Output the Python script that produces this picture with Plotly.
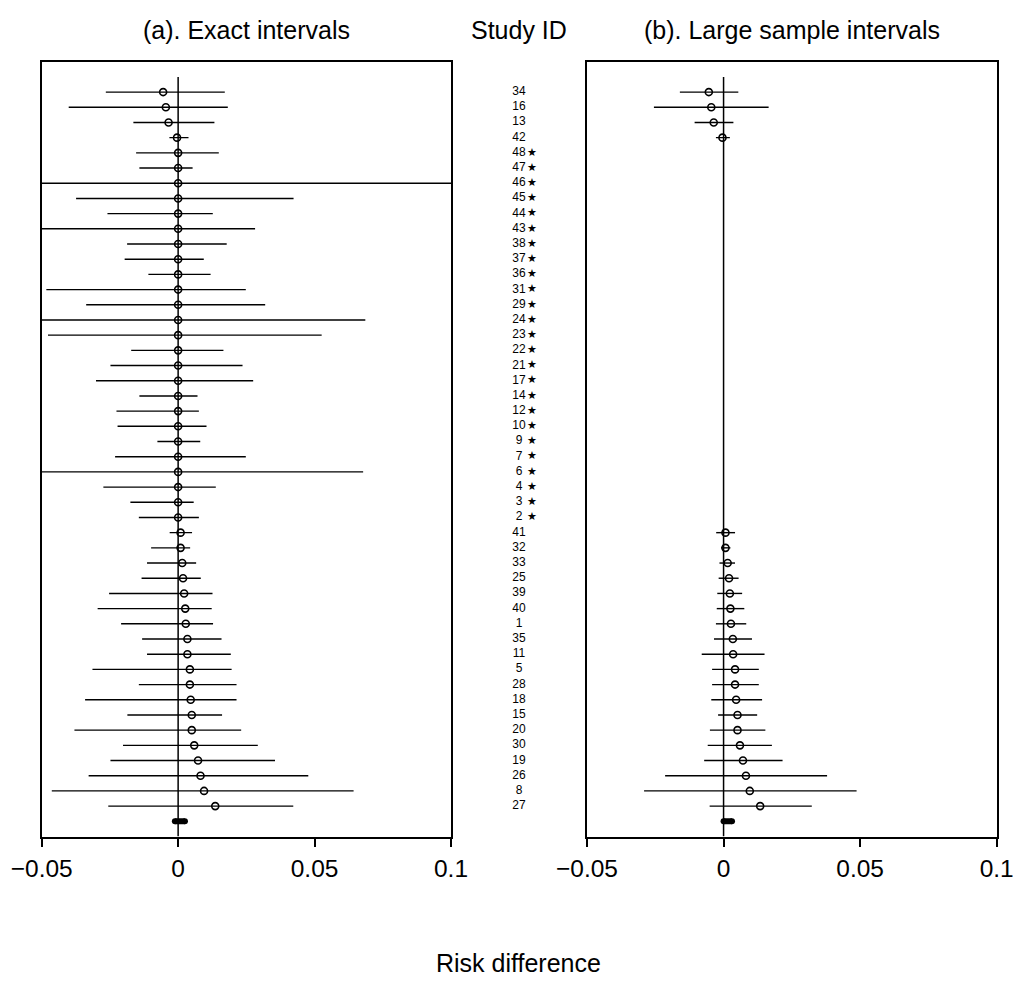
import plotly.graph_objects as go

# ---------------- data ----------------
study_ids = ["34", "16", "13", "42", "48", "47", "46", "45", "44", "43", "38", "37",
             "36", "31", "29", "24", "23", "22", "21", "17", "14", "12", "10", "9",
             "7", "6", "4", "3", "2", "41", "32", "33", "25", "39", "40", "1", "35",
             "11", "5", "28", "18", "15", "20", "30", "19", "26", "8", "27"]
double_zero = [False] * 4 + [True] * 25 + [False] * 19

# (a) exact intervals
exact_lo = [-0.0265, -0.0401, -0.0164, -0.0032, -0.0154, -0.0142, -0.0580, -0.0374,
            -0.0259, -0.0580, -0.0187, -0.0196, -0.0109, -0.0483, -0.0337, -0.0580,
            -0.0477, -0.0172, -0.0248, -0.0301, -0.0142, -0.0226, -0.0222, -0.0076,
            -0.0231, -0.0580, -0.0274, -0.0175, -0.0144, -0.0031, -0.0099, -0.0114,
            -0.0134, -0.0253, -0.0295, -0.0209, -0.0132, -0.0114, -0.0314, -0.0144,
            -0.0341, -0.0186, -0.0380, -0.0202, -0.0248, -0.0328, -0.0463, -0.0256]
exact_est = [-0.0055, -0.0045, -0.0035, -0.0004] + [0.0] * 25 + \
            [0.0009, 0.0009, 0.0015, 0.0018, 0.0022, 0.0026, 0.0028, 0.0034, 0.0034,
             0.0043, 0.0043, 0.0046, 0.0050, 0.0050, 0.0059, 0.0073, 0.0082, 0.0095,
             0.0136]
exact_hi = [0.0171, 0.0182, 0.0133, 0.0038, 0.0149, 0.0053, 0.1030, 0.0423,
            0.0127, 0.0282, 0.0178, 0.0094, 0.0119, 0.0248, 0.0319, 0.0686,
            0.0526, 0.0166, 0.0236, 0.0275, 0.0071, 0.0076, 0.0104, 0.0081,
            0.0248, 0.0678, 0.0138, 0.0057, 0.0076, 0.0051, 0.0044, 0.0066,
            0.0083, 0.0126, 0.0123, 0.0128, 0.0159, 0.0193, 0.0196, 0.0214,
            0.0214, 0.0161, 0.0231, 0.0292, 0.0355, 0.0477, 0.0643, 0.0422]
exact_summary = [-0.0012, 0.0025]

# (b) large sample intervals (double-zero studies excluded)
N = None
large_lo = [-0.0160, -0.0255, -0.0106, -0.0028] + [N] * 25 + \
           [-0.0027, -0.0009, -0.0015, -0.0018, -0.0023, -0.0025, -0.0028, -0.0035,
            -0.0080, -0.0042, -0.0042, -0.0045, -0.0020, -0.0050, -0.0058, -0.0071,
            -0.0214, -0.0291, -0.0051]
large_est = [-0.0054, -0.0045, -0.0036, -0.0004] + [N] * 25 + \
            [0.0007, 0.0007, 0.0015, 0.0020, 0.0023, 0.0025, 0.0027, 0.0034,
             0.0035, 0.0042, 0.0042, 0.0046, 0.0051, 0.0051, 0.0060, 0.0071,
             0.0082, 0.0096, 0.0134]
large_hi = [0.0054, 0.0165, 0.0036, 0.0023] + [N] * 25 + \
           [0.0042, 0.0025, 0.0042, 0.0055, 0.0068, 0.0076, 0.0083, 0.0104,
            0.0150, 0.0129, 0.0129, 0.0141, 0.0123, 0.0153, 0.0177, 0.0216,
            0.0379, 0.0487, 0.0323]
large_summary = [0.0000, 0.0031]

x_ticks = [-0.05, 0, 0.05, 0.1]
x_tick_labels = ["\u22120.05", "0", "0.05", "0.1"]

# ---------------- figure ----------------
FONT = "Liberation Sans, Arial, sans-serif"
W, H = 1013, 1003
n = len(study_ids)
rows = list(range(1, n + 1))
summary_row = n + 1

fig = go.Figure()


def add_panel(lo, est, hi, summ, xa, ya):
    # reference line at zero
    fig.add_trace(go.Scatter(x=[0, 0], y=[0, summary_row + 1], mode="lines",
                             line=dict(color="black", width=1.5),
                             xaxis=xa, yaxis=ya, hoverinfo="skip", showlegend=False))
    xs, ys = [], []
    for r, a, b in zip(rows, lo, hi):
        if a is None:
            continue
        xs += [a, b, None]
        ys += [r, r, None]
    fig.add_trace(go.Scatter(x=xs, y=ys, mode="lines",
                             line=dict(color="black", width=1.4),
                             xaxis=xa, yaxis=ya, hoverinfo="skip", showlegend=False))
    px = [e for e in est if e is not None]
    py = [r for r, e in zip(rows, est) if e is not None]
    fig.add_trace(go.Scatter(x=px, y=py, mode="markers",
                             marker=dict(symbol="circle-open", size=7, color="black",
                                         line=dict(width=1.6, color="black")),
                             xaxis=xa, yaxis=ya, showlegend=False))
    # pooled estimate (thick bar with round ends)
    fig.add_trace(go.Scatter(x=summ, y=[summary_row, summary_row], mode="lines+markers",
                             line=dict(color="black", width=6),
                             marker=dict(symbol="circle", size=6, color="black"),
                             xaxis=xa, yaxis=ya, hoverinfo="skip", showlegend=False))


add_panel(exact_lo, exact_est, exact_hi, exact_summary, "x", "y")
add_panel(large_lo, large_est, large_hi, large_summary, "x2", "y2")

# study ID labels
fig.add_trace(go.Scatter(x=[19] * n, y=rows, mode="text", text=study_ids,
                         textfont=dict(family=FONT, size=12, color="black"),
                         xaxis="x3", yaxis="y3", hoverinfo="skip", showlegend=False))
star_rows = [r for r, s in zip(rows, double_zero) if s]
fig.add_trace(go.Scatter(x=[32] * len(star_rows), y=star_rows, mode="text",
                         text=["\u2605"] * len(star_rows),
                         textfont=dict(family="DejaVu Sans", size=11, color="black"),
                         xaxis="x3", yaxis="y3", hoverinfo="skip", showlegend=False))

y_top, y_bot = 61.7, 836.5
ydom = [1 - y_bot / H, 1 - y_top / H]
yrange = [summary_row + 1, -1]

xaxis_common = dict(range=[-0.05, 0.1], tickvals=x_ticks, ticktext=x_tick_labels,
                    showgrid=False, zeroline=False, showline=True, mirror=True,
                    linecolor="black", linewidth=1.5, ticks="outside", ticklen=9,
                    tickwidth=1.5, tickcolor="black",
                    tickfont=dict(family=FONT, size=24.5, color="black"),
                    ticklabelstandoff=0, ticklabeloverflow="allow", automargin=False)
yaxis_common = dict(range=yrange, domain=ydom, showgrid=False, zeroline=False,
                    showline=True, mirror=True, linecolor="black", linewidth=1.5,
                    showticklabels=False, ticks="", automargin=False)

fig.update_layout(
    width=W, height=H,
    margin=dict(l=0, r=0, t=0, b=0),
    paper_bgcolor="white", plot_bgcolor="white",
    xaxis=dict(domain=[41.7 / W, 451 / W], anchor="y", **xaxis_common),
    yaxis=dict(anchor="x", **yaxis_common),
    xaxis2=dict(domain=[587 / W, 996.7 / W], anchor="y2", **xaxis_common),
    yaxis2=dict(anchor="x2", **yaxis_common),
    xaxis3=dict(domain=[500 / W, 540 / W], range=[0, 40], visible=False, anchor="y3"),
    yaxis3=dict(range=yrange, domain=ydom, visible=False, anchor="x3"),
    showlegend=False,
    font=dict(family=FONT, color="black"),
)

titles = [("(a). Exact intervals", 246), ("Study ID", 518.5), ("(b). Large sample intervals", 791.5)]
for txt, xc in titles:
    fig.add_annotation(text=txt, x=xc / W, y=1 - 30 / H, xref="paper", yref="paper",
                       xanchor="center", yanchor="middle", showarrow=False,
                       font=dict(family=FONT, size=25, color="black"))
fig.add_annotation(text="Risk difference", x=518.5 / W, y=1 - 963 / H, xref="paper",
                   yref="paper", xanchor="center", yanchor="middle", showarrow=False,
                   font=dict(family=FONT, size=25, color="black"))

fig.write_html("out.html", config={"displayModeBar": False},
               post_script="document.body.style.margin='0';document.body.style.overflow='hidden';")
